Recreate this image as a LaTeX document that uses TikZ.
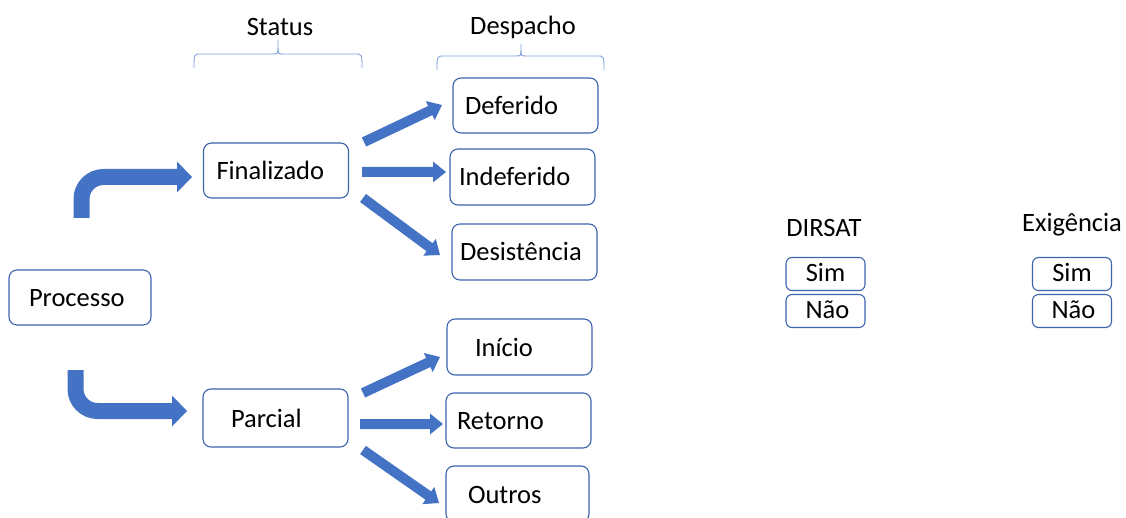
\documentclass[tikz,border=0pt]{standalone}
\usepackage{fontspec}
\setmainfont{Carlito}
\usetikzlibrary{calc}
\definecolor{arr}{HTML}{4472C4}
\definecolor{boxc}{HTML}{3B64AD}
\definecolor{brc}{HTML}{7FA3DA}
\newcommand\blockarr[2]{%
 \path (#1) coordinate (ta) (#2) coordinate (tb);
 \path ($(tb)!13pt!(ta)$) coordinate (th);
 \fill[arr] ($(ta)!5pt!90:(tb)$) -- ($(th)!5pt!90:(tb)$) -- ($(th)!10.5pt!90:(tb)$) -- (tb)
   -- ($(th)!10.5pt!-90:(tb)$) -- ($(th)!5pt!-90:(tb)$) -- ($(ta)!5pt!-90:(tb)$) -- cycle;}
\begin{document}
\begin{tikzpicture}[x=1pt,y=-1pt,
  font=\fontsize{26.5}{30}\selectfont,
  box/.style={draw=boxc, line width=1.1pt, rounded corners=8pt, fill=white,
    minimum height=55pt, inner ysep=0pt, align=left, text height=22pt, text depth=4pt},
  smallbox/.style={draw=boxc, line width=1.1pt, rounded corners=6pt, fill=white,
    minimum width=79pt, minimum height=33pt, inner sep=0pt, text height=20.5pt, text depth=5pt},
  brace/.style={draw=brc, line width=0.9pt},
  bentarr/.style={draw=arr, line width=16pt, rounded corners=22pt},
  head/.style={fill=arr}]
\useasboundingbox (0,0) rectangle (1126,518);

% headers
\node (hstatus) at (280,27) {Status};
\node (hdesp) at (523,27) {Despacho};
\node (hdirsat) at (824,228) {DIRSAT};
\node (hexig) at (1072,225) {Exigência};

% braces
\draw[brace] (194,68) .. controls (194,54) .. (201,54) -- (272,54) .. controls (278,54) .. (278,48) -- (278,40);
\draw[brace] (278,48) .. controls (278,54) .. (284,54) -- (355,54) .. controls (362,54) .. (362,68);
\draw[brace] (437,70) .. controls (437,56) .. (444,56) -- (515,56) .. controls (521,56) .. (521,50) -- (521,44);
\draw[brace] (521,50) .. controls (521,56) .. (527,56) -- (597,56) .. controls (604,56) .. (604,70);

% main boxes
\node[box, text width=102pt, inner xsep=20pt] (proc) at (80,297.5) {Processo};
\node[box, text width=119pt, inner xsep=13pt] (fin) at (276,170.5) {Finalizado};
\node[box, text width=89pt, inner xsep=28pt, minimum height=58pt] (parc) at (275.5,418) {Parcial};
\node[box, text width=121pt, inner xsep=12pt] (def) at (525.5,105.5) {Deferido};
\node[box, text width=127pt, inner xsep=9pt, minimum height=56pt] (indef) at (522.5,177) {Indeferido};
\node[box, text width=129pt, inner xsep=8pt, minimum height=56pt] (desist) at (524.5,252) {Desistência};
\node[box, text width=89pt, inner xsep=28pt, minimum height=56pt] (inicio) at (519.5,347) {Início};
\node[box, text width=123pt, inner xsep=11pt] (ret) at (518.5,420.5) {Retorno};
\node[box, text width=99pt, inner xsep=22pt, minimum height=56pt] (outros) at (517.5,494) {Outros};

% small boxes
\node[smallbox] (dsim) at (825.5,274) {Sim};
\node[smallbox] (dnao) at (825.5,311) {\hspace{4pt}Não};
\node[smallbox] (esim) at (1072,274) {Sim};
\node[smallbox] (enao) at (1072,311) {\hspace{3pt}Não};

% bent arrows
\coordinate (ts) at (81.5,218);
\coordinate (th1) at (177,177);
\coordinate (tt) at (192,177);
\draw[bentarr] (ts) |- (th1);
\fill[head] ($(th1)+(0,-15.5)$) -- (tt) -- ($(th1)+(0,15.5)$) -- cycle;
\coordinate (bs) at (75.5,370);
\coordinate (bh1) at (172,411);
\coordinate (bt) at (187,411);
\draw[bentarr] (bs) |- (bh1);
\fill[head] ($(bh1)+(0,-15.5)$) -- (bt) -- ($(bh1)+(0,15.5)$) -- cycle;

% block arrows
\coordinate (a1) at (364,142); \coordinate (b1) at (442,105);
\coordinate (a2) at (362,172); \coordinate (b2) at (446,172);
\coordinate (a3) at (363,198); \coordinate (b3) at (440,255);
\coordinate (c1) at (363,393); \coordinate (d1) at (440,357);
\coordinate (c2) at (360,424); \coordinate (d2) at (443,424);
\coordinate (c3) at (363,450); \coordinate (d3) at (439,503);
\blockarr{a1}{b1}
\blockarr{a2}{b2}
\blockarr{a3}{b3}
\blockarr{c1}{d1}
\blockarr{c2}{d2}
\blockarr{c3}{d3}
\end{tikzpicture}
\end{document}
